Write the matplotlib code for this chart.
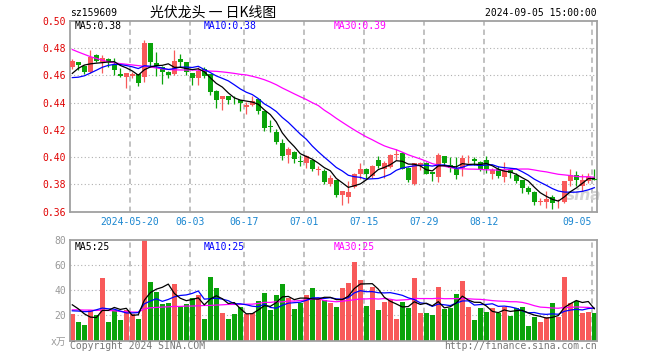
import matplotlib
matplotlib.use("Agg")
import matplotlib.pyplot as plt
import numpy as np
import pandas as pd

plt.rcParams['font.family'] = ['DejaVu Sans Mono', 'Noto Sans CJK SC']

# ---------------- data ----------------
opens = [0.4660, 0.4697, 0.4672, 0.4622, 0.4750, 0.4696, 0.4718, 0.4676, 0.4607, 0.4590,
         0.4597, 0.4607, 0.4590, 0.4840, 0.4691, 0.4662, 0.4627, 0.4612, 0.4721, 0.4696,
         0.4615, 0.4583, 0.4644, 0.4607, 0.4484, 0.4425, 0.4447, 0.4420, 0.4422, 0.4368,
         0.4385, 0.4425, 0.4336, 0.4228, 0.4187, 0.4100, 0.4014, 0.4039, 0.3968, 0.3960,
         0.3980, 0.3908, 0.3898, 0.3805, 0.3832, 0.3718, 0.3708, 0.3780, 0.3879, 0.3911,
         0.3862, 0.3980, 0.3916, 0.3930, 0.4015, 0.4027, 0.3923, 0.3805, 0.3936, 0.3960,
         0.3891, 0.3854, 0.4009, 0.3943, 0.3916, 0.3923, 0.3983, 0.3985, 0.3965, 0.3980,
         0.3879, 0.3916, 0.3856, 0.3911, 0.3869, 0.3832, 0.3775, 0.3745, 0.3671, 0.3671,
         0.3706, 0.3674, 0.3671, 0.3824, 0.3866, 0.3787, 0.3824, 0.3842]
highs = [0.4720, 0.4699, 0.4680, 0.4788, 0.4755, 0.4750, 0.4726, 0.4726, 0.4655, 0.4617,
         0.4627, 0.4612, 0.4862, 0.4840, 0.4775, 0.4670, 0.4630, 0.4788, 0.4756, 0.4698,
         0.4617, 0.4664, 0.4662, 0.4612, 0.4490, 0.4447, 0.4447, 0.4447, 0.4422, 0.4405,
         0.4447, 0.4427, 0.4336, 0.4269, 0.4207, 0.4133, 0.4071, 0.4047, 0.4015, 0.4015,
         0.3985, 0.3936, 0.3916, 0.3866, 0.3835, 0.3750, 0.3824, 0.3880, 0.3960, 0.3923,
         0.3940, 0.4010, 0.3973, 0.4020, 0.4059, 0.4034, 0.3925, 0.3960, 0.3965, 0.3962,
         0.3893, 0.4027, 0.4010, 0.4002, 0.3997, 0.4017, 0.4017, 0.3997, 0.3968, 0.4010,
         0.3923, 0.3936, 0.3965, 0.3923, 0.3886, 0.3835, 0.3787, 0.3750, 0.3701, 0.3750,
         0.3718, 0.3689, 0.3824, 0.3911, 0.3898, 0.3874, 0.3886, 0.3911]
lows = [0.4650, 0.4638, 0.4610, 0.4615, 0.4700, 0.4620, 0.4659, 0.4602, 0.4585, 0.4509,
        0.4578, 0.4523, 0.4553, 0.4662, 0.4597, 0.4536, 0.4578, 0.4600, 0.4664, 0.4602,
        0.4528, 0.4528, 0.4578, 0.4459, 0.4360, 0.4343, 0.4388, 0.4392, 0.4336, 0.4313,
        0.4375, 0.4318, 0.4195, 0.4187, 0.4096, 0.3980, 0.3960, 0.3953, 0.3931, 0.3923,
        0.3898, 0.3866, 0.3800, 0.3787, 0.3708, 0.3651, 0.3664, 0.3775, 0.3842, 0.3842,
        0.3849, 0.3923, 0.3849, 0.3920, 0.3980, 0.3910, 0.3817, 0.3794, 0.3906, 0.3874,
        0.3824, 0.3820, 0.3936, 0.3893, 0.3842, 0.3862, 0.3960, 0.3943, 0.3899, 0.3880,
        0.3842, 0.3849, 0.3819, 0.3849, 0.3812, 0.3738, 0.3731, 0.3651, 0.3651, 0.3627,
        0.3619, 0.3627, 0.3664, 0.3787, 0.3787, 0.3750, 0.3812, 0.3832]
closes = [0.4706, 0.4676, 0.4626, 0.4736, 0.4706, 0.4726, 0.4700, 0.4639, 0.4596, 0.4617,
          0.4612, 0.4546, 0.4835, 0.4701, 0.4667, 0.4622, 0.4602, 0.4706, 0.4701, 0.4622,
          0.4583, 0.4632, 0.4597, 0.4479, 0.4417, 0.4447, 0.4417, 0.4417, 0.4397, 0.4380,
          0.4410, 0.4336, 0.4212, 0.4224, 0.4108, 0.4009, 0.4059, 0.3985, 0.3963, 0.4005,
          0.3911, 0.3913, 0.3819, 0.3849, 0.3723, 0.3750, 0.3745, 0.3879, 0.3916, 0.3874,
          0.3936, 0.3936, 0.3958, 0.4016, 0.4020, 0.3916, 0.3832, 0.3953, 0.3953, 0.3879,
          0.3874, 0.4017, 0.3960, 0.3923, 0.3869, 0.3990, 0.3988, 0.3968, 0.3911, 0.3911,
          0.3903, 0.3861, 0.3898, 0.3881, 0.3824, 0.3775, 0.3743, 0.3671, 0.3676, 0.3693,
          0.3664, 0.3679, 0.3824, 0.3866, 0.3832, 0.3832, 0.3854, 0.3832]
volumes = [21.1, 14.4, 12.0, 24.0, 20.0, 49.6, 14.4, 24.0, 16.0, 24.5,
           21.3, 16.8, 82.0, 46.4, 38.4, 28.8, 29.6, 44.8, 27.0, 28.8,
           33.6, 36.0, 16.8, 50.4, 41.9, 21.6, 16.8, 20.8, 26.4, 21.0,
           22.1, 31.7, 37.6, 24.0, 36.0, 44.8, 33.6, 24.8, 30.1, 36.0,
           41.6, 32.8, 32.0, 30.1, 26.7, 41.9, 45.9, 62.7, 48.3, 27.5,
           42.4, 24.0, 30.4, 32.3, 16.8, 30.4, 25.6, 49.6, 21.6, 21.6,
           20.0, 42.4, 24.8, 25.9, 36.8, 47.2, 26.7, 16.0, 25.6, 22.4,
           25.6, 21.6, 26.9, 19.5, 25.6, 26.7, 11.2, 18.4, 14.4, 18.7,
           29.6, 18.4, 50.4, 29.6, 31.7, 21.6, 22.4, 21.6]

# moving-average values at the start of the window (read from the chart,
# their history lies before the first visible day)
ma5_head = [0.4615, 0.4652, 0.4676, 0.4685]
ma10_head = [0.4584, 0.4587, 0.4597, 0.4617, 0.4638, 0.4660, 0.4674, 0.4681, 0.4680]
ma30_head = [0.4790, 0.4772, 0.4755, 0.4738, 0.4725, 0.4712, 0.4700, 0.4692, 0.4687, 0.4682,
             0.4677, 0.4672, 0.4667, 0.4662, 0.4655, 0.4648, 0.4644, 0.4641, 0.4640, 0.4640,
             0.4640, 0.4639, 0.4636, 0.4632, 0.4630, 0.4626, 0.4621, 0.4615, 0.4608]
vma5_head = [28.5, 25.3, 21.3, 18.7]
vma10_head = [23.7, 23.5, 23.0, 23.2, 24.5, 25.9, 25.3, 25.0, 23.5]
vma30_head = [24.5, 24.5, 24.3, 24.3, 24.0, 24.3, 24.0, 23.7, 23.2, 23.0,
              22.7, 22.7, 25.3, 26.1, 26.4, 26.7, 26.9, 27.2, 27.2, 27.5,
              27.5, 27.7, 28.0, 28.0, 28.3, 28.5, 28.8, 28.8, 28.8]

tick_dates = ["2024-05-20", "2024-06-03", "2024-06-17", "2024-07-01",
              "2024-07-15", "2024-07-29", "2024-08-12", "2024-09-05"]
tick_labels = ["2024-05-20", "06-03", "06-17", "07-01", "07-15", "07-29", "08-12", "09-05"]
price_ticks = [0.36, 0.38, 0.40, 0.42, 0.44, 0.46, 0.48, 0.50]
vol_ticks = [0, 20, 40, 60, 80]
vol_tick_labels = ["x万", "20", "40", "60", "80"]

code = "sz159609"
title = "光伏龙头 一 日K线图"
stamp = "2024-09-05 15:00:00"
ma_labels = ["MA5:0.38", "MA10:0.38", "MA30:0.39"]
vma_labels = ["MA5:25", "MA10:25", "MA30:25"]

# ---------------- derived ----------------
trade_days = pd.bdate_range("2024-05-06", "2024-09-05")
trade_days = trade_days[trade_days != pd.Timestamp("2024-06-10")]
n = len(closes)
x = np.arange(n)
o = np.array(opens); h = np.array(highs); l = np.array(lows); c = np.array(closes)
v = np.array(volumes)
tick_idx = [trade_days.get_loc(pd.Timestamp(d)) for d in tick_dates]
grid_x = np.array(tick_idx) - 0.38


def moving(series, w, head):
    m = pd.Series(series).rolling(w).mean().to_numpy()
    m[:len(head)] = head
    return m


ma5 = moving(c, 5, ma5_head)
ma10 = moving(c, 10, ma10_head)
ma30 = moving(c, 30, ma30_head)
vma5 = moving(v, 5, vma5_head)
vma10 = moving(v, 10, vma10_head)
vma30 = moving(v, 30, vma30_head)

RED = "#f85a5a"
GREEN = "#0aa30a"
GRID = "#b0b0b0"
SPINE = "#a0a0a0"
up = c >= o
colors = np.where(up, RED, GREEN)

W, H = 660, 360
fig = plt.figure(figsize=(6.6, 3.6), dpi=100)


def fx(px):
    return px / W


def fy(py):
    return 1 - py / H


L_, R_ = 70, 597
ax = fig.add_axes([fx(L_), fy(211.5), (R_ - L_) / W, (211.5 - 21.0) / H])
axv = fig.add_axes([fx(L_), fy(340.5), (R_ - L_) / W, (340.5 - 240.3) / H])

xlim = (-0.383, 87.45)

for a in (ax, axv):
    a.set_xlim(*xlim)
    for s in a.spines.values():
        s.set_color(SPINE)
        s.set_linewidth(1.3)
    for gx in grid_x:
        a.axvline(gx, color=GRID, lw=1.1, linestyle=(0, (3.5, 2.6)), zorder=0.5)

# price panel
ax.set_ylim(0.36, 0.50)
for yv in price_ticks[1:-1]:
    ax.axhline(yv, color=GRID, lw=0.8, linestyle=(0, (1, 2.2)), zorder=0.5)
ax.vlines(x, l, h, colors=colors, lw=0.9, zorder=2)
body_bot = np.minimum(o, c)
body_h = np.maximum(np.abs(c - o), 0.0006)
ax.bar(x, body_h, bottom=body_bot, width=0.85, color=colors, lw=0, zorder=3)
ax.plot(x, ma30, color="#ff00ff", lw=0.9, zorder=4)
ax.plot(x, ma10, color="#0000ff", lw=0.9, zorder=4)
ax.plot(x, ma5, color="black", lw=0.9, zorder=4)
ax.set_yticks(price_ticks)
ax.set_yticklabels([f"{t:.2f}" for t in price_ticks], color="#e00000", fontsize=7)
ax.set_xticks(grid_x)
ax.set_xticklabels(tick_labels, color="#1a86d0", fontsize=7)
ax.xaxis.get_ticklabels()[-1].set_horizontalalignment("right")
ax.tick_params(axis="both", length=0)
ax.tick_params(axis="y", pad=3)
ax.tick_params(axis="x", pad=4)
ax.text(0.941, 0.085, "sina", transform=ax.transAxes, color="#d4d4d4", fontsize=11,
        family="DejaVu Sans", style="italic", weight="bold", va="center", zorder=1)

# volume panel
axv.set_ylim(0, 80)
for yv in vol_ticks[1:-1]:
    axv.axhline(yv, color=GRID, lw=0.8, linestyle=(0, (1, 2.2)), zorder=0.5)
axv.bar(x, v, width=0.85, color=colors, lw=0, zorder=2)
axv.plot(x, vma30, color="#ff00ff", lw=0.9, zorder=4)
axv.plot(x, vma10, color="#0000ff", lw=0.9, zorder=4)
axv.plot(x, vma5, color="black", lw=0.9, zorder=4)
axv.set_yticks(vol_ticks)
axv.set_yticklabels(vol_tick_labels, color="#999999", fontsize=7)
axv.set_xticks([])
axv.tick_params(axis="both", length=0)
axv.tick_params(axis="y", pad=3)

# texts
fig.text(fx(70), fy(13.5), code, fontsize=7, ha="left", va="center", color="black")
fig.text(fx(150), fy(12.5), title, fontsize=10, ha="left", va="center", color="black",
         family=["Noto Sans CJK SC", "DejaVu Sans"])
fig.text(fx(597), fy(12.5), stamp, fontsize=7, ha="right", va="center", color="black")
ma_cols = ["black", "#0000ff", "#ff00ff"]
ma_x = [75, 204, 334]
for txt, col, px in zip(ma_labels, ma_cols, ma_x):
    fig.text(fx(px), fy(26), txt, fontsize=7, ha="left", va="center", color=col)
for txt, col, px in zip(vma_labels, ma_cols, ma_x):
    fig.text(fx(px), fy(246.5), txt, fontsize=7, ha="left", va="center", color=col)
fig.text(fx(70), fy(346), "Copyright 2024 SINA.COM", fontsize=7, ha="left", va="center",
         color="#777777")
fig.text(fx(597), fy(346), "http://finance.sina.com.cn", fontsize=7, ha="right",
         va="center", color="#777777")

fig.savefig("out.png", dpi=100)
